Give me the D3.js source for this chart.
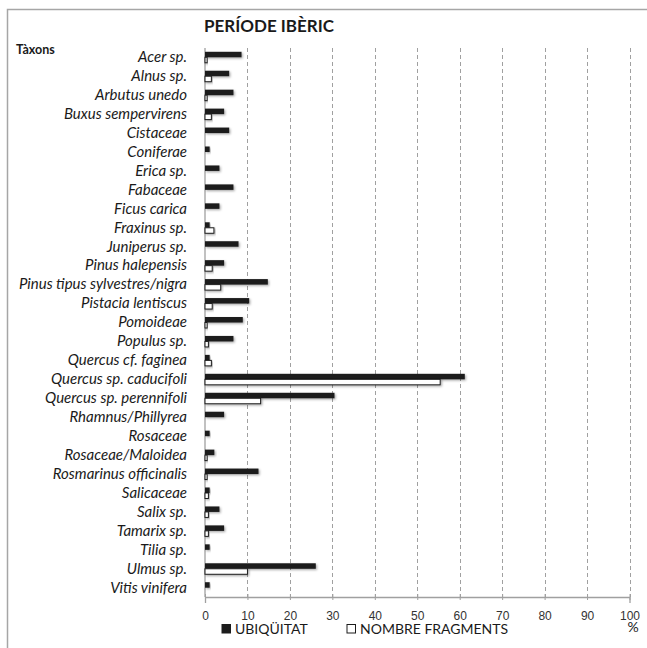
<!DOCTYPE html>
<meta charset="utf-8">
<style>
body { margin: 0; background: #fff; }
svg { font-family: 'Lato', 'Liberation Sans', sans-serif; }
.label { font-style: italic; font-size: 15px; fill: #1a1a1a; }
.tick text { font-size: 12px; fill: #333; }
</style>
<body>
<script src="https://d3js.org/d3.v7.min.js"></script>
<script>

// taxa, in the order shown (top to bottom)
var taxa = [
  "Acer sp.", "Alnus sp.", "Arbutus unedo", "Buxus sempervirens", "Cistaceae",
  "Coniferae", "Erica sp.", "Fabaceae", "Ficus carica", "Fraxinus sp.",
  "Juniperus sp.", "Pinus halepensis", "Pinus tipus sylvestres/nigra",
  "Pistacia lentiscus", "Pomoideae", "Populus sp.", "Quercus cf. faginea",
  "Quercus sp. caducifoli", "Quercus sp. perennifoli", "Rhamnus/Phillyrea",
  "Rosaceae", "Rosaceae/Maloidea", "Rosmarinus officinalis", "Salicaceae",
  "Salix sp.", "Tamarix sp.", "Tilia sp.", "Ulmus sp.", "Vitis vinifera"
];

// UBIQÜITAT (%)
var ubiquitat = [
  8.6, 5.7, 6.7, 4.5, 5.7,
  1.1, 3.4, 6.7, 3.4, 1.1,
  7.9, 4.5, 14.8,
  10.4, 8.9, 6.7, 1.1,
  61.2, 30.5, 4.5,
  1.1, 2.2, 12.6, 1.1,
  3.4, 4.5, 1.1, 26.1, 1.1
];

// NOMBRE FRAGMENTS (%)
var fragments = [
  0.5, 1.5, 0.5, 1.5, 0,
  0, 0, 0, 0, 2.1,
  0, 1.7, 3.7,
  1.7, 0.5, 0.8, 1.5,
  55.4, 13.1, 0,
  0, 0.5, 0.5, 0.8,
  0.8, 0.8, 0, 10.0, 0
];

var xTicks = [0, 10, 20, 30, 40, 50, 60, 70, 80, 90, 100];
var seriesNames = ["UBIQÜITAT", "NOMBRE FRAGMENTS"];

var W = 647, H = 648;
var plotLeft = 205, plotRight = 629.5, plotTop = 48, plotBottom = 597;

var svg = d3.select("body").append("svg")
  .attr("width", W)
  .attr("height", H);

// drop shadow like the spreadsheet export
var defs = svg.append("defs");
var f = defs.append("filter").attr("id", "shadow")
  .attr("x", "-10%").attr("y", "-50%").attr("width", "130%").attr("height", "250%");
f.append("feDropShadow")
  .attr("dx", 1.2).attr("dy", 1.2).attr("stdDeviation", 0.8)
  .attr("flood-color", "#000").attr("flood-opacity", 0.35);

// outer frame (left + top only are visible)
svg.append("path")
  .attr("d", "M7.5," + H + "V9.5H" + W)
  .attr("fill", "none")
  .attr("stroke", "#a6a6a6")
  .attr("stroke-width", 1.5);

var x = d3.scaleLinear().domain([0, 100]).range([plotLeft, plotRight]);

var y = d3.scaleBand()
  .domain(taxa)
  .range([plotTop, plotBottom])
  .paddingInner(0.42)
  .paddingOuter(0.2);

var ySub = d3.scaleBand()
  .domain(seriesNames)
  .range([0, y.bandwidth()]);

// dashed vertical gridlines
svg.append("g")
  .selectAll("line")
  .data(xTicks.slice(1))
  .enter().append("line")
    .attr("x1", function(d) { return Math.round(x(d)) + 0.5; })
    .attr("x2", function(d) { return Math.round(x(d)) + 0.5; })
    .attr("y1", plotTop)
    .attr("y2", plotBottom)
    .attr("stroke", "#a0a0a0")
    .attr("stroke-width", 1)
    .attr("stroke-dasharray", "4,3");

// x axis
var xAxis = svg.append("g")
  .attr("transform", "translate(0," + plotBottom + ")")
  .call(d3.axisBottom(x).tickValues(xTicks).tickSize(6).tickPadding(8.5));
xAxis.select(".domain").attr("stroke", "#a0a0a0").attr("stroke-width", 1.3);
xAxis.selectAll(".tick line").attr("stroke", "#a0a0a0").attr("y1", -3).attr("y2", 3);
xAxis.selectAll(".tick text").attr("font-family", null).attr("font-size", null);

// y axis line
svg.append("line")
  .attr("x1", plotLeft).attr("x2", plotLeft)
  .attr("y1", plotTop).attr("y2", plotBottom)
  .attr("stroke", "#a0a0a0")
  .attr("stroke-width", 1.3);

// bars
var rows = svg.append("g").selectAll("g")
  .data(taxa)
  .enter().append("g")
    .attr("transform", function(d) { return "translate(0," + y(d) + ")"; });

rows.append("rect")
  .attr("x", x(0))
  .attr("y", ySub(seriesNames[0]))
  .attr("width", function(d, i) { return x(ubiquitat[i]) - x(0); })
  .attr("height", ySub.bandwidth())
  .attr("fill", "#1c1c1c")
  .attr("filter", "url(#shadow)");

rows.append("rect")
  .attr("x", x(0))
  .attr("y", ySub(seriesNames[1]))
  .attr("width", function(d, i) { return x(fragments[i]) - x(0); })
  .attr("height", ySub.bandwidth())
  .attr("fill", "#fff")
  .attr("stroke", "#1c1c1c")
  .attr("stroke-width", 1)
  .attr("filter", "url(#shadow)");

// category labels
svg.append("g").selectAll("text")
  .data(taxa)
  .enter().append("text")
    .attr("class", "label")
    .attr("x", 187)
    .attr("y", function(d) { return y(d) + y.bandwidth() / 2 + 1; })
    .attr("text-anchor", "end")
    .attr("dominant-baseline", "middle")
    .text(function(d) { return d; });

// title
svg.append("text")
  .attr("x", 269)
  .attr("y", 32)
  .attr("text-anchor", "middle")
  .style("font-size", "17px")
  .style("font-weight", "bold")
  .attr("fill", "#1a1a1a")
  .text("PERÍODE IBÈRIC");

svg.append("text")
  .attr("x", 16)
  .attr("y", 54)
  .style("font-size", "12.5px")
  .style("font-weight", "bold")
  .attr("fill", "#1a1a1a")
  .text("Tàxons");

// legend
var legendX = [222, 347];
var legend = svg.append("g").selectAll("g")
  .data(seriesNames)
  .enter().append("g")
    .attr("transform", function(d, i) { return "translate(" + legendX[i] + ",624.5)"; });

legend.append("rect")
  .attr("width", 8.5)
  .attr("height", 8.5)
  .attr("fill", function(d, i) { return i == 0 ? "#1c1c1c" : "#fff"; })
  .attr("stroke", "#1c1c1c")
  .attr("stroke-width", 1);

legend.append("text")
  .attr("x", 13)
  .attr("y", 9)
  .style("font-size", "14px")
  .attr("fill", "#1a1a1a")
  .text(function(d) { return d; });

svg.append("text")
  .attr("x", 633)
  .attr("y", 632)
  .attr("text-anchor", "middle")
  .style("font-size", "14px")
  .attr("fill", "#1a1a1a")
  .text("%");

</script>
</body>
